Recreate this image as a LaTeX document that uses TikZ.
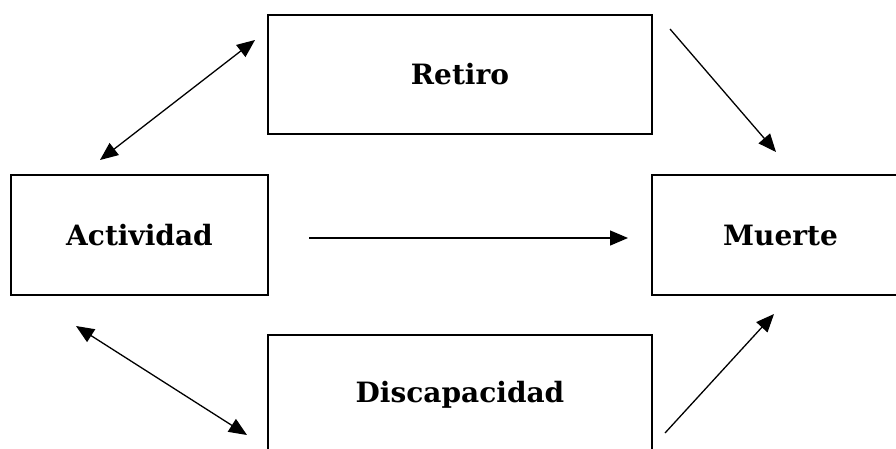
\documentclass[tikz,border=0pt]{standalone}
\usepackage{fontspec}
\setmainfont{DejaVu Serif}
\usetikzlibrary{arrows.meta}
\begin{document}
\begin{tikzpicture}[x=1pt,y=-1pt,
  statebox/.style={draw, line width=1.8pt, rectangle, inner sep=0pt, font=\fontsize{28}{32}\selectfont\bfseries},
  conn/.style={line width=1.3pt, -{Triangle[length=18pt,width=15pt]}},
  bconn/.style={line width=1.3pt, {Triangle[length=18pt,width=15pt]}-{Triangle[length=18pt,width=15pt]}}]
\clip (0,0) rectangle (896,448);
\fill[white] (0,0) rectangle (896,448);
\node[statebox, minimum width=384pt, minimum height=119pt] (ret) at (460,74.5) {Retiro};
\node[statebox, minimum width=257pt, minimum height=120pt] (act) at (139.5,235) {Actividad};
\node[statebox, minimum width=257pt, minimum height=120pt] (mue) at (780.5,235) {Muerte};
\node[statebox, minimum width=384pt, minimum height=120pt] (dis) at (460,395) {Discapacidad};
\coordinate (a1) at (100,160);
\coordinate (a2) at (255,40);
\coordinate (b1) at (670,29);
\coordinate (b2) at (776,152);
\coordinate (c1) at (309,238);
\coordinate (c2) at (628,238);
\coordinate (d1) at (76,326);
\coordinate (d2) at (247,435);
\coordinate (e1) at (665,433);
\coordinate (e2) at (774,314);
\draw[bconn] (a1) -- (a2);
\draw[conn] (b1) -- (b2);
\draw[conn] (c1) -- (c2);
\draw[bconn] (d1) -- (d2);
\draw[conn] (e1) -- (e2);
\end{tikzpicture}
\end{document}
